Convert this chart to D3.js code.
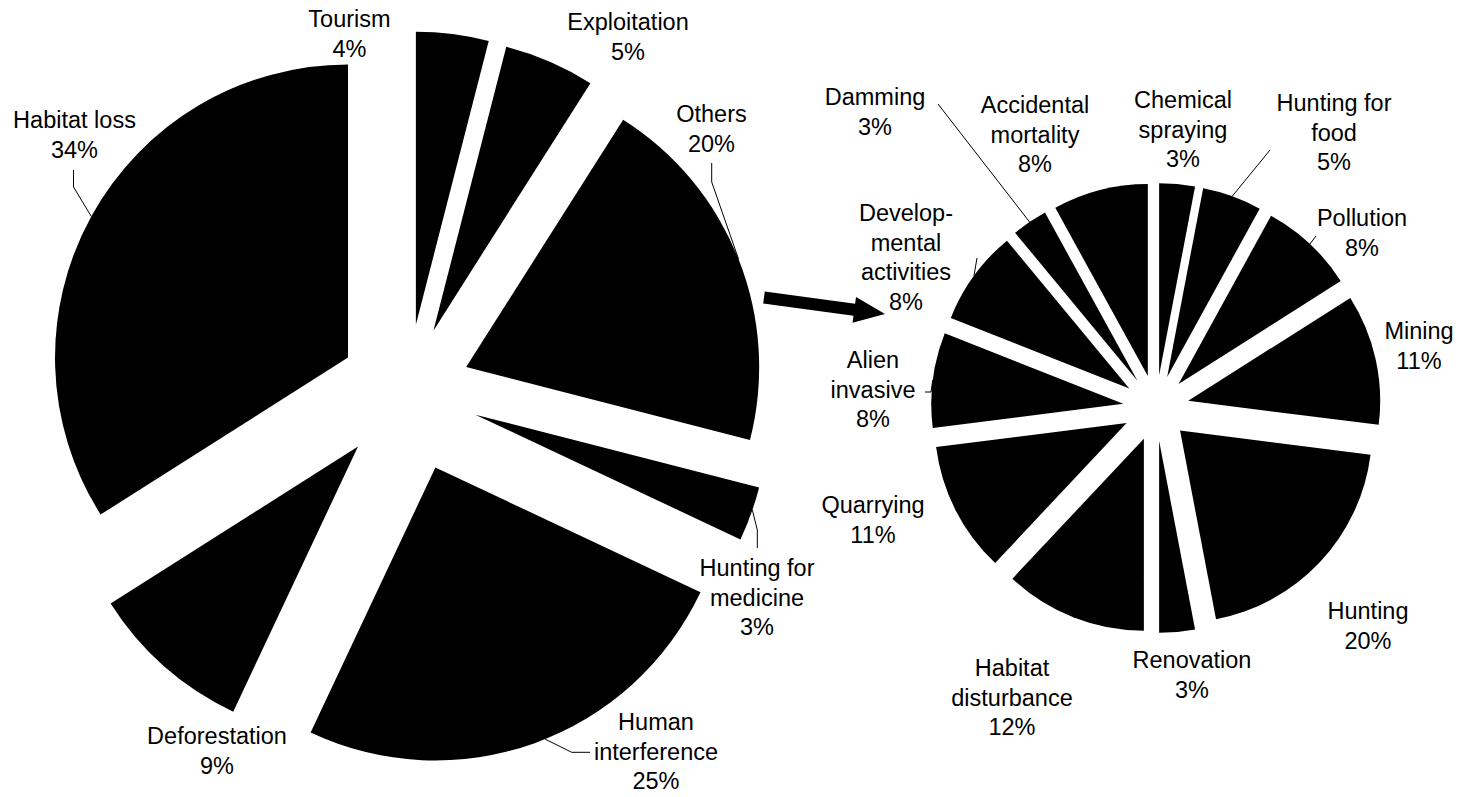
<!DOCTYPE html>
<html>
<head>
<meta charset="utf-8">
<script src="https://cdn.jsdelivr.net/npm/d3@7"></script>
<style>
  body { margin: 0; background: #fff; }
  text { font-family: "Liberation Sans", Arial, sans-serif; font-size: 23.5px; fill: #000; }
</style>
</head>
<body>
<svg id="chart" width="1471" height="797"></svg>
<script>
// Main threats (share of records, %)
const mainCategories = ["Tourism", "Exploitation", "Others", "Hunting for\nmedicine",
  "Human\ninterference", "Deforestation", "Habitat loss"];
const mainValues = [4, 5, 20, 3, 25, 9, 34];

// Breakdown of the "Others" group (%)
const otherCategories = ["Chemical\nspraying", "Hunting for\nfood", "Pollution", "Mining",
  "Hunting", "Renovation", "Habitat\ndisturbance", "Quarrying", "Alien\ninvasive",
  "Develop-\nmental\nactivities", "Damming", "Accidental\nmortality"];
const otherValues = [3, 5, 8, 11, 20, 3, 12, 11, 8, 8, 3, 8];

// ---- layout ----
const W = 1471, H = 797;
const lineStep = 29.5;

// pie centre, radius and how far each slice is pulled out
const mainGeo = { cx: 407.6, cy: 390.3, r: 293, explode: [66, 65, 63, 72, 82, 75, 68] };
const subGeo  = { cx: 1156, cy: 408, r: 192, explode: [33, 33, 33, 33, 33, 33, 33, 33, 33, 33, 33, 33] };

// label anchor: [centre x, first baseline y]
const mainLabelPos = [[349.5, 27], [628, 30], [711.5, 122], [757, 576], [656, 730], [217, 744], [74.5, 128]];
const subLabelPos = [[1183, 108], [1334, 111], [1362, 226], [1419, 339], [1368, 619], [1192, 668],
  [1012, 676], [873, 513], [873, 368], [906, 221], [875, 105], [1035, 113]];

// leader lines: label-side points, then the slice edge at `angle` (deg) or at the slice middle
const mainLeaders = [null, null,
  { pts: [[711.7, 163], [711.7, 182]] },
  { pts: [[757.3, 548], [757.3, 530]], angle: 109 },
  { pts: [[590, 752.3], [571.7, 752.3]], angle: 158 },
  null,
  { pts: [[73.5, 170], [73.5, 187]] }];
const subLeaders = [null,
  { pts: [[1270, 150]] },
  { pts: [[1316, 236]] },
  null, null, null, null, null,
  { pts: [[925, 392], [931, 392]] },
  { pts: [[977, 258]] },
  { pts: [[938, 104]] },
  null];

const svg = d3.select("#chart");
svg.append("rect").attr("width", W).attr("height", H).attr("fill", "#fff");

function drawPie(cats, vals, geo, labelPos, leaders) {
  const g = svg.append("g");
  const slices = d3.pie().sort(null).value(d => d)(vals);
  const arc = d3.arc().innerRadius(0).outerRadius(geo.r);

  slices.forEach((s, i) => {
    const mid = (s.startAngle + s.endAngle) / 2;
    const ox = geo.cx + geo.explode[i] * Math.sin(mid);
    const oy = geo.cy - geo.explode[i] * Math.cos(mid);

    g.append("path")
      .attr("d", arc(s))
      .attr("transform", `translate(${ox},${oy})`)
      .attr("fill", "#000");

    const ld = leaders[i];
    if (ld) {
      const a = ld.angle != null ? ld.angle * Math.PI / 180 : mid;
      const end = [ox + geo.r * Math.sin(a), oy - geo.r * Math.cos(a)];
      g.append("path")
        .attr("d", d3.line()([...ld.pts, end]))
        .attr("fill", "none")
        .attr("stroke", "#000")
        .attr("stroke-width", 1);
    }

    const lines = cats[i].split("\n").concat([vals[i] + "%"]);
    const t = g.append("text").attr("text-anchor", "middle");
    lines.forEach((ln, k) => {
      t.append("tspan")
        .attr("x", labelPos[i][0])
        .attr("y", labelPos[i][1] + k * lineStep)
        .text(ln);
    });
  });
}

drawPie(mainCategories, mainValues, mainGeo, mainLabelPos, mainLeaders);
drawPie(otherCategories, otherValues, subGeo, subLabelPos, subLeaders);

// arrow from the "Others" slice to its breakdown
const arrowFrom = [764, 297.5], arrowTo = [885, 314];
const shaftW = 12, headL = 31, headW = 26;
(function () {
  const dx = arrowTo[0] - arrowFrom[0], dy = arrowTo[1] - arrowFrom[1];
  const len = Math.hypot(dx, dy), ux = dx / len, uy = dy / len, nx = -uy, ny = ux;
  const bx = arrowTo[0] - ux * headL, by = arrowTo[1] - uy * headL;
  const p = [
    [arrowFrom[0] + nx * shaftW / 2, arrowFrom[1] + ny * shaftW / 2],
    [bx + nx * shaftW / 2, by + ny * shaftW / 2],
    [bx + nx * headW / 2, by + ny * headW / 2],
    arrowTo,
    [bx - nx * headW / 2, by - ny * headW / 2],
    [bx - nx * shaftW / 2, by - ny * shaftW / 2],
    [arrowFrom[0] - nx * shaftW / 2, arrowFrom[1] - ny * shaftW / 2]
  ];
  svg.append("path").attr("d", d3.line()(p) + "Z").attr("fill", "#000");
})();
</script>
</body>
</html>
